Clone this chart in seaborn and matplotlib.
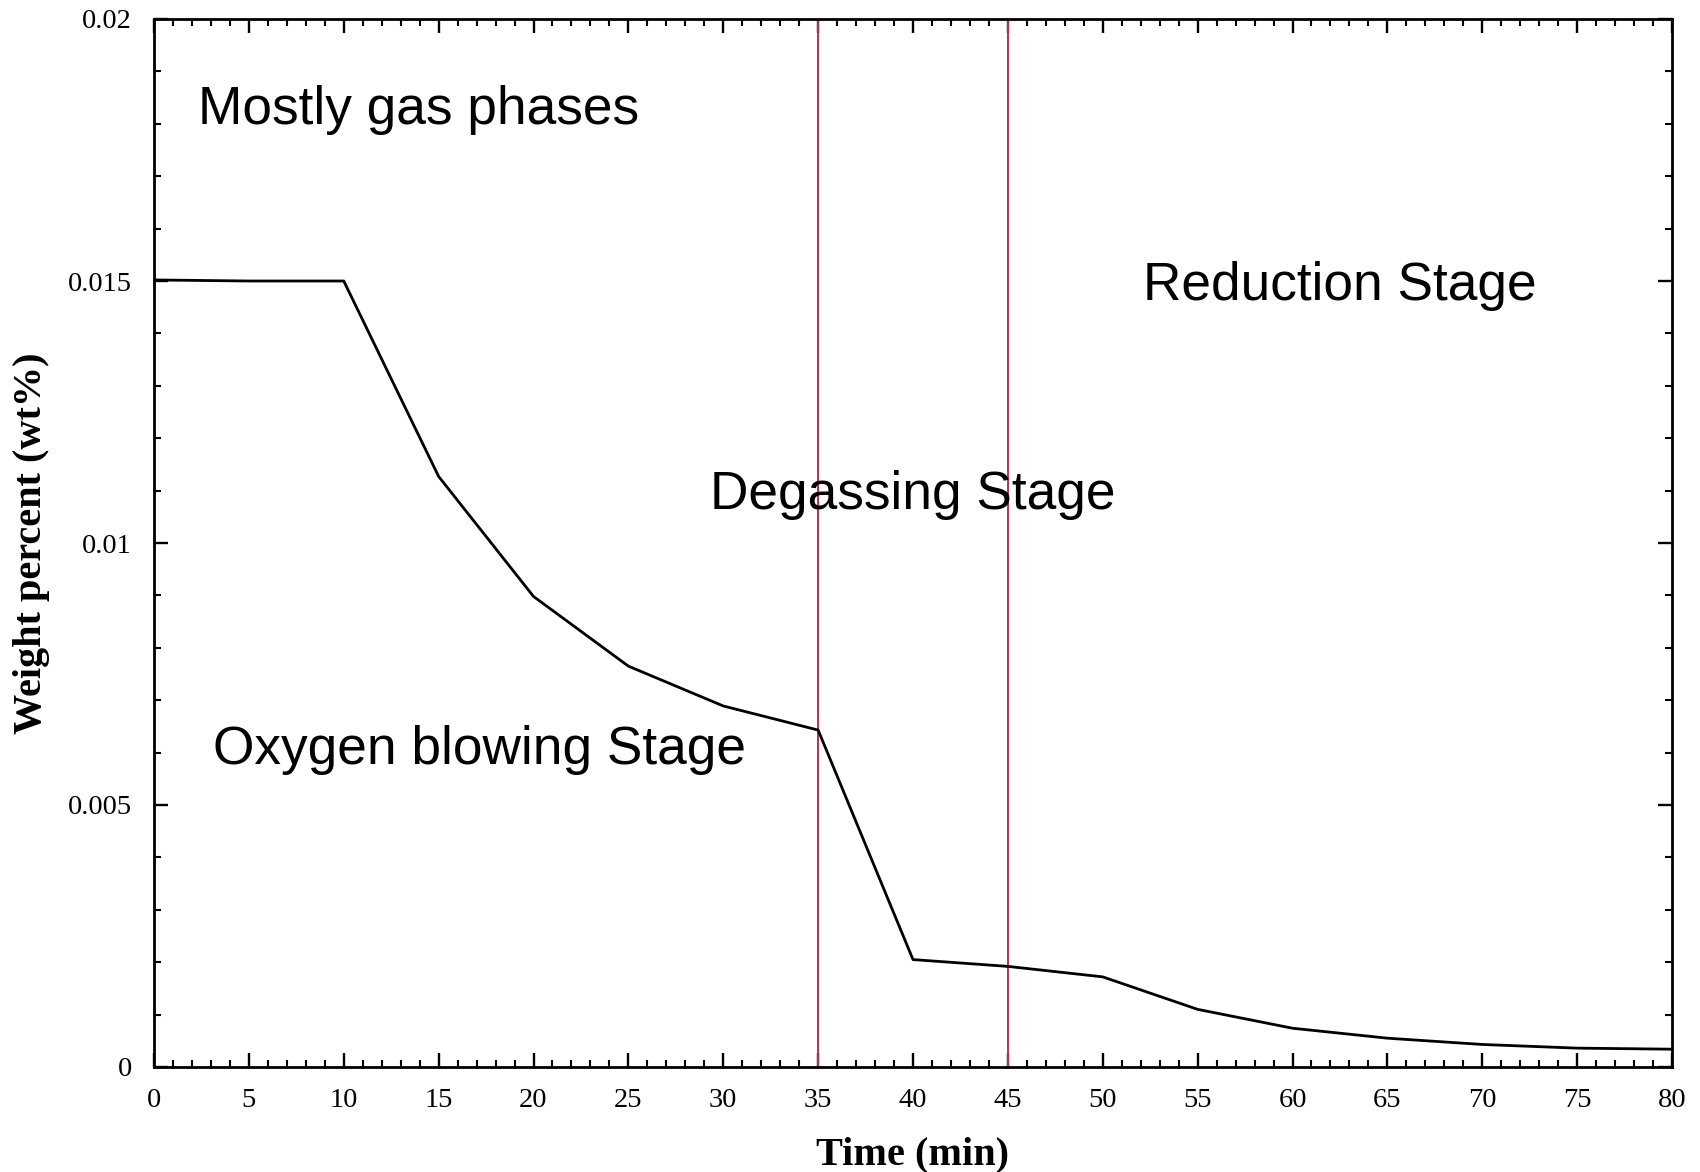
import numpy as np
import pandas as pd
import matplotlib
matplotlib.use("Agg")
import matplotlib.pyplot as plt
from matplotlib.ticker import MultipleLocator
import seaborn as sns

# Data
time_min = [0, 5, 10, 15, 20, 25, 30, 35, 40, 45, 50, 55, 60, 65, 70, 75, 80]
weight_pct = [0.01502, 0.01500, 0.01500, 0.01127, 0.00898, 0.00765, 0.00689,
              0.00643, 0.00205, 0.00192, 0.00172, 0.00110, 0.00074, 0.00055,
              0.00043, 0.00036, 0.00034]
stage_bounds = [35, 45]
x_ticks = [0, 5, 10, 15, 20, 25, 30, 35, 40, 45, 50, 55, 60, 65, 70, 75, 80]
y_ticks = [0, 0.005, 0.01, 0.015, 0.02]
y_tick_labels = ["0", "0.005", "0.01", "0.015", "0.02"]
annotations = [
    ("Mostly gas phases", 2.3, 0.01826),
    ("Reduction Stage", 52.1, 0.01491),
    ("Degassing Stage", 29.3, 0.01092),
    ("Oxygen blowing Stage", 3.1, 0.00605),
]

df = pd.DataFrame({"Time (min)": time_min, "Weight percent (wt%)": weight_pct})

sns.set_style("ticks")
plt.rcParams["font.family"] = ["Liberation Serif", "DejaVu Serif"]
plt.rcParams["text.color"] = "black"
plt.rcParams["axes.labelcolor"] = "black"
plt.rcParams["xtick.color"] = "black"
plt.rcParams["ytick.color"] = "black"

fig = plt.figure(figsize=(17, 11.72), dpi=100)
ax = fig.add_axes([154 / 1700, 1 - 1067 / 1172, (1672 - 154) / 1700, (1067 - 19) / 1172])

sns.lineplot(data=df, x="Time (min)", y="Weight percent (wt%)", ax=ax,
             color="black", linewidth=2.0)

for xb in stage_bounds:
    ax.axvline(xb, color="#B5305F", linewidth=1.4, zorder=1)

ax.set_xlim(0, 80)
ax.set_ylim(0, 0.02)
ax.set_xticks(x_ticks)
ax.set_xticklabels([str(t) for t in x_ticks])
ax.set_yticks(y_ticks)
ax.set_yticklabels(y_tick_labels)
ax.xaxis.set_minor_locator(MultipleLocator(1))
ax.yaxis.set_minor_locator(MultipleLocator(0.001))

ax.tick_params(axis="both", which="major", direction="in", length=10, width=1.7,
               top=True, right=True, labelsize=20.5, colors="black")
ax.tick_params(axis="both", which="minor", direction="in", length=5, width=1.5,
               top=True, right=True, colors="black")
ax.tick_params(axis="x", which="major", pad=15)
ax.tick_params(axis="y", which="major", pad=16)

for sp in ax.spines.values():
    sp.set_visible(True)
    sp.set_linewidth(2.0)
    sp.set_color("black")

ax.set_xlabel("Time (min)", fontsize=29, fontweight="bold", labelpad=17, color="black")
ax.set_ylabel("Weight percent (wt%)", fontsize=29, fontweight="bold", labelpad=13, color="black")

for txt, xx, yy in annotations:
    ax.text(xx, yy, txt, fontsize=38.3, va="center", ha="left",
            family=["Liberation Sans", "DejaVu Sans"], color="black")

fig.savefig("out.png", dpi=100)
